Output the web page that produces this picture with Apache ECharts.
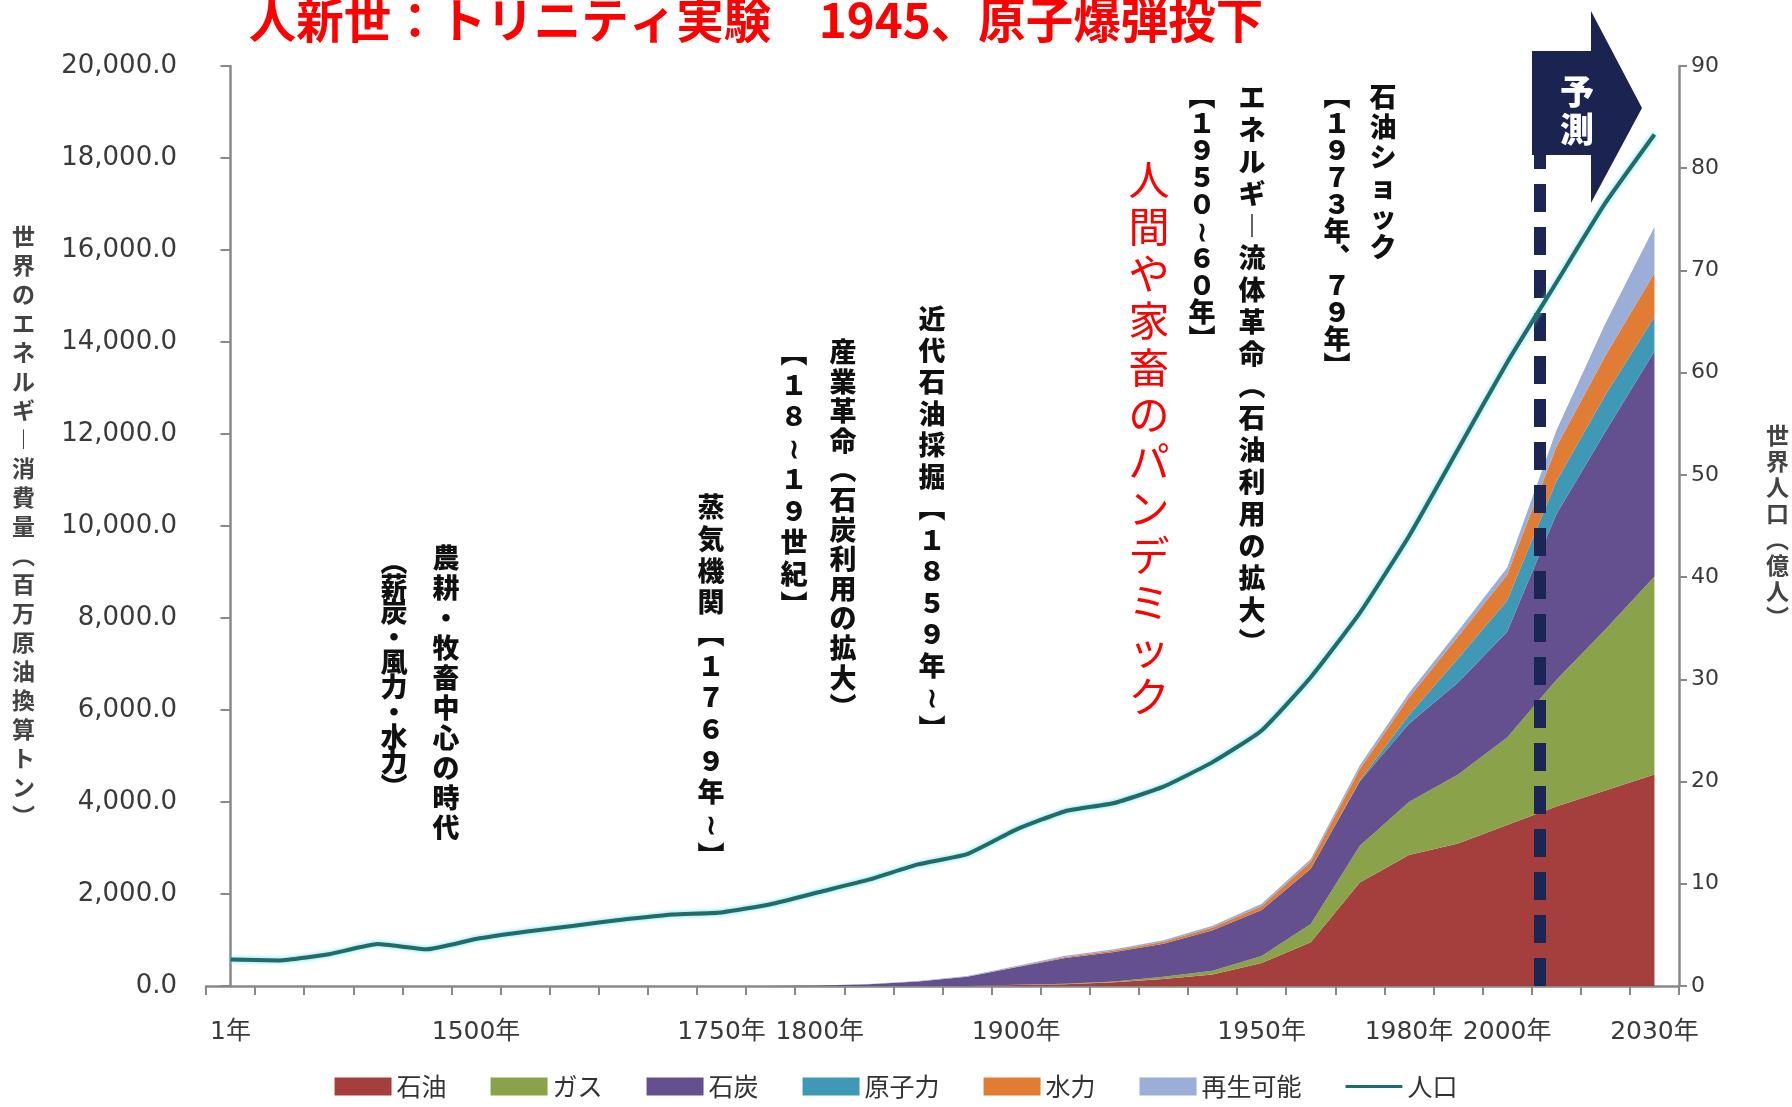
<!DOCTYPE html>
<html><head><meta charset="utf-8">
<script src="https://cdn.jsdelivr.net/npm/echarts@6/dist/echarts.min.js"></script>
<style>html,body{margin:0;padding:0;background:#fff}#c{width:1792px;height:1107px}</style>
</head><body><div id="c"></div>
<script>
// ---- data ----
const categories = ['1年','1000','1250','1340','1400','1500年','1550','1600','1650','1700','1750年','1775','1800年','1825','1850','1875','1900年','1910','1920','1930','1940','1950年','1960','1970','1980年','1990','2000年','2010','2020','2030年'];
const shownLabels = ['1年','1500年','1750年','1800年','1900年','1950年','1980年','2000年','2030年'];
const oil     = [0,0,0,0,0,0,0,0,0,0,0,0,0,0,0,0,20,40,80,150,250,500,950,2250,2850,3100,3500,3900,4250,4600];
const gas     = [0,0,0,0,0,0,0,0,0,0,0,0,0,0,0,0,5,10,20,50,80,150,400,800,1150,1500,1900,2750,3500,4300];
const coal    = [0,0,0,0,0,0,0,0,0,0,0,0,10,40,100,200,380,560,640,720,880,1000,1200,1400,1700,2000,2300,3600,4300,4900];
const nuclear = [0,0,0,0,0,0,0,0,0,0,0,0,0,0,0,0,0,0,0,0,0,0,0,20,190,520,680,720,800,750];
const hydro   = [0,0,0,0,0,0,0,0,0,0,0,0,0,0,0,0,10,20,30,40,60,90,150,250,380,480,560,750,850,950];
const renew   = [0,0,0,0,0,0,0,0,0,0,0,0,0,5,10,15,20,25,30,35,40,50,60,80,100,120,150,350,700,1000];
const population = [2.6,2.5,3.1,4.1,3.6,4.6,5.3,5.9,6.5,7.0,7.2,8.0,9.2,10.4,11.9,12.9,15.3,17.1,17.9,19.5,21.9,25.0,30.2,36.5,44.0,52.5,61.0,68.8,76.6,83.3];
const leftTicks = {min:0, max:20000, interval:2000};
const rightTicks = {min:0, max:90, interval:10};
const forecastStart = 26.67; // category position of forecast boundary
const seriesNames = ['石油','ガス','石炭','原子力','水力','再生可能','人口'];
const seriesColors = ['#a53f3d','#8aa34b','#65508f','#3e98b6','#e17c34','#9aaed8','#1f6d6b'];

const title = '人新世：トリニティ実験　1945、原子爆弾投下';
const notes = [
  {t:'石油ショック', x:1383, y:82, lh:30},
  {t:'【１９７３年、７９年】', x:1337, y:82, lh:27},
  {t:'エネルギー流体革命（石油利用の拡大）', x:1252, y:82, lh:32},
  {t:'【１９５０〜６０年】', x:1202, y:82, lh:27},
  {t:'近代石油採掘【１８５９年〜】', x:932, y:303, lh:31.5},
  {t:'産業革命（石炭利用の拡大）', x:843, y:337, lh:29.6},
  {t:'【１８〜１９世紀】', x:794, y:337, lh:31.5},
  {t:'蒸気機関【１７６９年〜】', x:711, y:491, lh:31.7},
  {t:'農耕・牧畜中心の時代', x:446, y:543, lh:30},
  {t:'（薪炭・風力・水力）', x:394, y:549, lh:25}
];
const redNote = {t:'人間や家畜のパンデミック', x:1149, y:156, lh:47};

// ---- helpers ----
const vmap = {'【':'︻','】':'︼','（':'︵','）':'︶','ー':'︱','〜':'≀','、':'︑'};
function vert(s){ return Array.from(s).map(c => vmap[c] || c).join('\n'); }

const chart = echarts.init(document.getElementById('c'));
const cjk = "'Noto Sans CJK JP', sans-serif";
const num = "'DejaVu Sans', 'Noto Sans CJK JP', sans-serif";
const energy = [oil, gas, coal, nuclear, hydro, renew];

const series = energy.map((d, i) => ({
  name: seriesNames[i], type: 'line', stack: 'energy', data: d,
  symbol: 'none', smooth: false,
  lineStyle: {width: 0}, itemStyle: {color: seriesColors[i]},
  areaStyle: {color: seriesColors[i], opacity: 1}, z: 2
}));
series.push({
  name: '人口', type: 'line', yAxisIndex: 1, data: population, symbol: 'none', smooth: 0.15,
  itemStyle: {color: seriesColors[6]},
  lineStyle: {width: 4, color: seriesColors[6], shadowColor: 'rgba(110,215,225,0.95)', shadowBlur: 4},
  z: 5
});
series.push({
  name: 'forecast', type: 'line', xAxisIndex: 1, yAxisIndex: 0, data: [],
  markLine: {
    silent: true, symbol: ['none','none'], label: {show: false},
    lineStyle: {color: '#1b2654', width: 12, type: [28, 15], opacity: 1},
    data: [{xAxis: forecastStart}]
  }, z: 4
});

const graphics = [];
notes.forEach(n => graphics.push({
  type: 'text', x: n.x, y: n.y, z: 10,
  style: {text: vert(n.t), fill: '#111', font: `900 27px ${cjk}`, lineHeight: n.lh, align: 'center', verticalAlign: 'top'}
}));
graphics.push({
  type: 'text', x: redNote.x, y: redNote.y, z: 10,
  style: {text: vert(redNote.t), fill: '#ff0000', font: `400 41px ${cjk}`, lineHeight: redNote.lh, align: 'center', verticalAlign: 'top'}
});
graphics.push({
  type: 'text', x: 756, y: -4, z: 10,
  style: {text: title, fill: '#ff0000', font: `700 47.5px ${cjk}`, align: 'center', verticalAlign: 'top'}
});
graphics.push({
  type: 'polygon', z: 8,
  shape: {points: [[1532,51],[1591,51],[1591,11],[1642,108],[1591,203],[1591,155],[1532,155]]},
  style: {fill: '#1b2350'}
});
graphics.push({
  type: 'text', x: 1577, y: 72, z: 9,
  style: {text: '予\n測', fill: '#fff', font: `900 34px ${cjk}`, lineHeight: 38, align: 'center', verticalAlign: 'top'}
});

const lineIcon = 'path://M0,0L1,0L1,0.01L0,0.01Z M0,8L60,8L60,11L0,11Z M0,19L1,19L1,19.01L0,19.01Z';

chart.setOption({
  animation: false,
  backgroundColor: '#fff',
  grid: {left: 206, right: 113, top: 66, bottom: 121},
  legend: {
    bottom: 3, left: 'center', itemWidth: 57, itemHeight: 18, itemGap: 44,
    data: seriesNames.map(n => n === '人口' ? {name: n, icon: lineIcon} : {name: n, icon: 'rect'}),
    textStyle: {fontSize: 25, color: '#333', fontFamily: cjk}
  },
  xAxis: [{
    type: 'category', data: categories, boundaryGap: true,
    axisLine: {lineStyle: {color: '#888', width: 2.5}},
    axisTick: {show: true, interval: 0, length: 9, lineStyle: {color: '#888', width: 2}},
    axisLabel: {interval: 0, margin: 34, fontSize: 25, color: '#3a3a3a', fontFamily: num,
      formatter: v => shownLabels.includes(v) ? v : ''}
  }, {
    type: 'value', min: -0.5, max: 29.5, show: false
  }],
  yAxis: [{
    type: 'value', min: leftTicks.min, max: leftTicks.max, interval: leftTicks.interval,
    name: vert('世界のエネルギー消費量（百万原油換算トン）'), nameLocation: 'middle', nameRotate: 0, nameGap: 171,
    nameTextStyle: {fontSize: 23, lineHeight: 29, color: '#444', fontWeight: 'bold', fontFamily: cjk},
    axisLine: {show: true, lineStyle: {color: '#888', width: 2.5}},
    axisTick: {show: true, length: 10, lineStyle: {color: '#888', width: 2}},
    splitLine: {show: false},
    axisLabel: {margin: 29, fontSize: 26, color: '#3a3a3a', fontFamily: num,
      formatter: v => v.toLocaleString('en-US', {minimumFractionDigits: 1, maximumFractionDigits: 1})}
  }, {
    type: 'value', min: rightTicks.min, max: rightTicks.max, interval: rightTicks.interval, position: 'right',
    name: vert('世界人口（億人）'), nameLocation: 'middle', nameRotate: 0, nameGap: 87,
    nameTextStyle: {fontSize: 23, lineHeight: 26, color: '#444', fontWeight: 'bold', fontFamily: cjk},
    axisLine: {show: true, lineStyle: {color: '#888', width: 2.5}},
    axisTick: {show: true, length: 8, lineStyle: {color: '#888', width: 2}},
    splitLine: {show: false},
    axisLabel: {margin: 12, fontSize: 22, color: '#3a3a3a', fontFamily: num}
  }],
  series: series,
  graphic: graphics
});
</script></body></html>
